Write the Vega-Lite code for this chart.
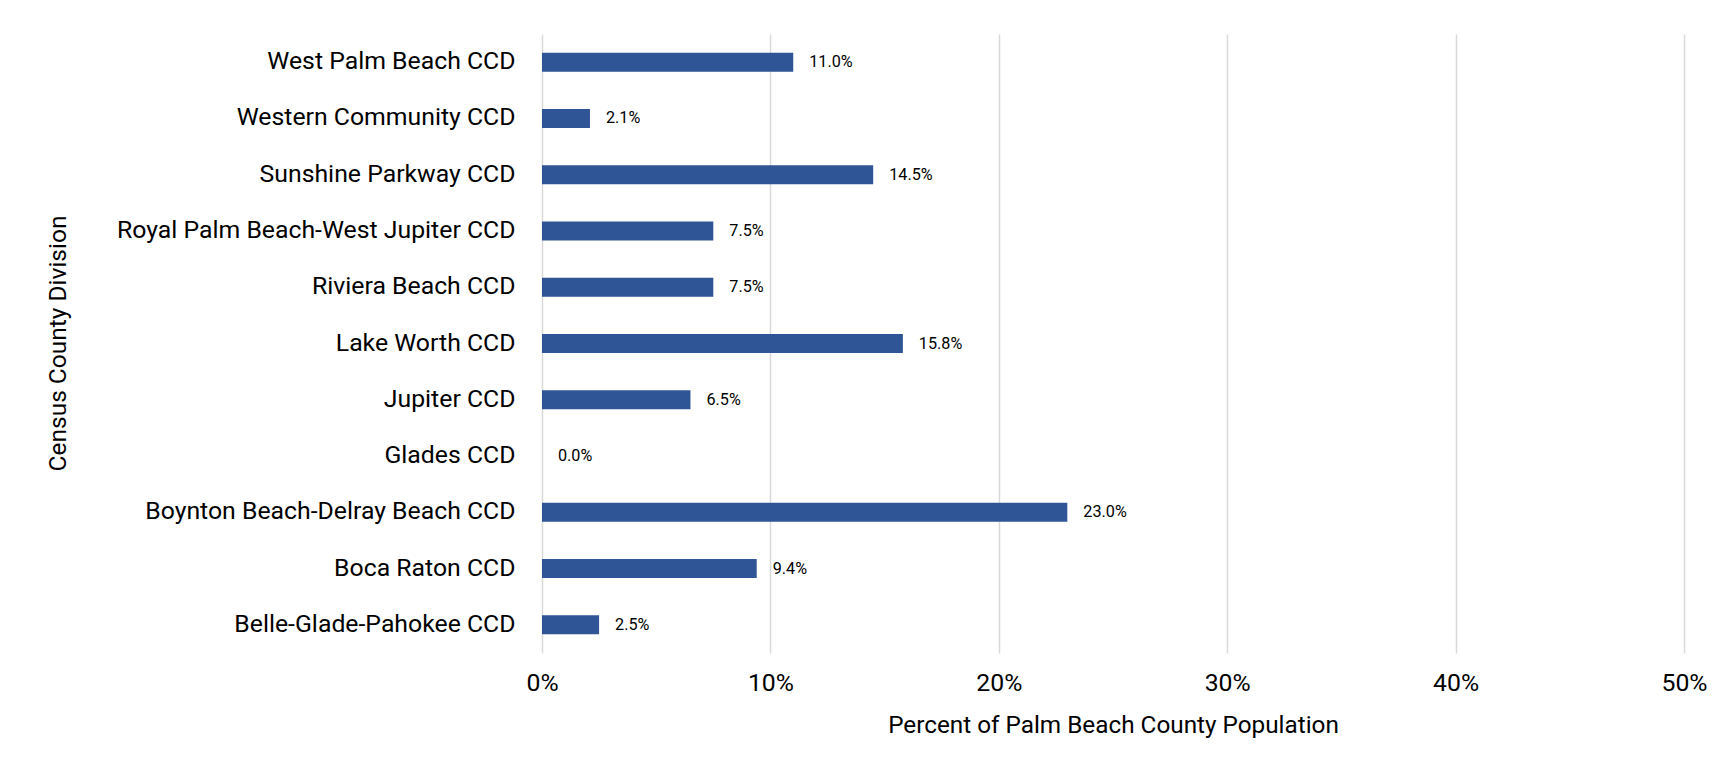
{
  "$schema": "https://vega.github.io/schema/vega-lite/v6.json",
  "autosize": {"type": "none"},
  "width": 1142,
  "height": 619,
  "padding": {"left": 542, "top": 34, "right": 50, "bottom": 121},
  "background": "#ffffff",
  "config": {
    "view": {"stroke": null},
    "font": "Roboto",
    "axis": {"labelFont": "Roboto", "titleFont": "Roboto", "labelColor": "#000000", "titleColor": "#000000", "titleFontWeight": "normal"}
  },
  "data": {
    "values": [
      {"division": "West Palm Beach CCD", "share": 0.110},
      {"division": "Western Community CCD", "share": 0.021},
      {"division": "Sunshine Parkway CCD", "share": 0.145},
      {"division": "Royal Palm Beach-West Jupiter CCD", "share": 0.075},
      {"division": "Riviera Beach CCD", "share": 0.075},
      {"division": "Lake Worth CCD", "share": 0.158},
      {"division": "Jupiter CCD", "share": 0.065},
      {"division": "Glades CCD", "share": 0.000},
      {"division": "Boynton Beach-Delray Beach CCD", "share": 0.230},
      {"division": "Boca Raton CCD", "share": 0.094},
      {"division": "Belle-Glade-Pahokee CCD", "share": 0.025}
    ]
  },
  "encoding": {
    "y": {
      "field": "division",
      "type": "nominal",
      "sort": null,
      "scale": {"paddingInner": 0, "paddingOuter": 0},
      "axis": {
        "title": "Census County Division",
        "titleFontSize": 24.5,
        "titleAngle": -90,
        "titleX": -484,
        "titleY": 309,
        "titleBaseline": "middle",
        "titleAlign": "center",
        "labelFontSize": 24.8,
        "labelPadding": 27,
        "ticks": false,
        "domain": false,
        "grid": false,
        "labelLimit": 600
      }
    },
    "x": {
      "field": "share",
      "type": "quantitative",
      "scale": {"domain": [0, 0.5], "nice": false},
      "axis": {
        "title": "Percent of Palm Beach County Population",
        "titleFontSize": 24.3,
        "titleY": 72,
        "titleBaseline": "middle",
        "values": [0, 0.1, 0.2, 0.3, 0.4, 0.5],
        "format": ".0%",
        "labelFontSize": 24.8,
        "labelPadding": 17,
        "labelFlush": false,
        "ticks": false,
        "domain": false,
        "grid": true,
        "gridColor": "#d9d9d9",
        "gridWidth": 1.5
      }
    }
  },
  "layer": [
    {
      "mark": {"type": "bar", "size": 19, "color": "#2F5597"}
    },
    {
      "mark": {"type": "text", "align": "left", "baseline": "middle", "dx": 16, "fontSize": 16.2, "color": "#000000", "font": "Roboto"},
      "encoding": {
        "text": {"field": "share", "type": "quantitative", "format": ".1%"}
      }
    }
  ]
}
